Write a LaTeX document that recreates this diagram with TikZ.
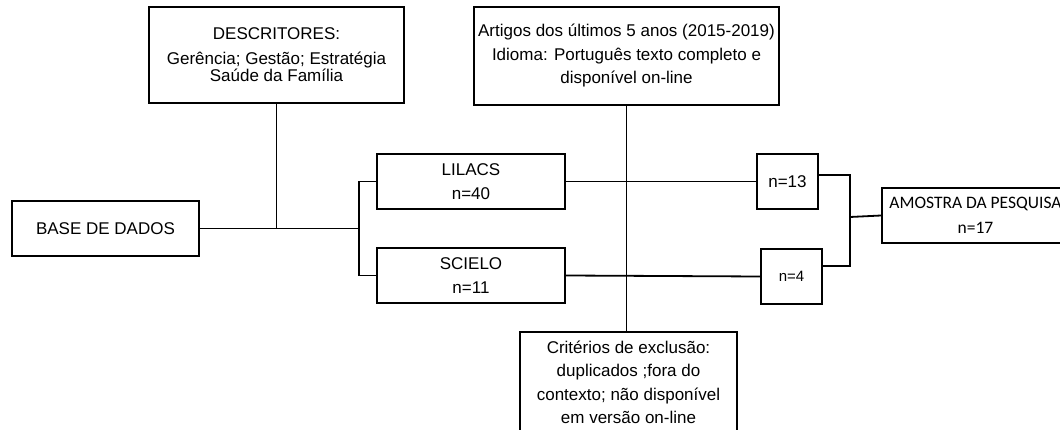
\documentclass[tikz,border=0pt]{standalone}
\usepackage{fontspec}
\setmainfont{Liberation Sans}
\newfontfamily\calib{Carlito}
\begin{document}
\begin{tikzpicture}[x=1pt,y=-1pt,
  box/.style={draw, rectangle, line width=1.7pt, inner sep=0pt, align=center,
              font=\fontsize{17}{23.5}\selectfont},
  wire/.style={draw, line width=1.8pt}]
\useasboundingbox (0,0) rectangle (1060,430);
\fill[white] (0,0) rectangle (1060,430);

\node[box, minimum width=255pt, minimum height=96pt, font=\fontsize{17}{16}\selectfont] (desc) at (276.5,55)
  {DESCRITORES:\\[9pt] Gerência; Gestão; Estratégia\\ Saúde da Família};
\node[box, minimum width=187pt, minimum height=55pt] (base) at (105.5,228.5) {BASE DE DADOS};
\node[box, minimum width=305pt, minimum height=98pt] (art) at (626.5,56)
  {Artigos dos últimos 5 anos (2015-2019)\\ Idioma: Português texto completo e\\ disponível on-line};
\node[box, minimum width=188pt, minimum height=55pt] (lil) at (471,181.5) {LILACS\\ n=40};
\node[box, minimum width=188pt, minimum height=55pt] (sci) at (471,275.5) {SCIELO\\ n=11};
\node[box, minimum width=61pt, minimum height=55pt] (n13) at (787.5,181.5) {n=13};
\node[box, minimum width=61pt, minimum height=55pt, font=\fontsize{15}{16}\selectfont] (n4) at (791.5,276.5) {n=4};
\node[box, minimum width=187pt, minimum height=55pt, font=\calib\fontsize{17.5}{25}\selectfont] (amo) at (975.5,215.5)
  {AMOSTRA DA PESQUISA\\ n=17};
\node[box, minimum width=217pt, minimum height=101pt] (crit) at (628.5,382.5)
  {Critérios de exclusão:\\ duplicados ;fora do\\ contexto; não disponível\\ em versão on-line};

\coordinate (j2) at (359,228.5);
\coordinate (j3) at (850,217);

\draw[wire] (base.east) -- (j2);
\draw[wire] (desc.south) -- (desc.south |- base.east);
\draw[wire] (lil.west) -| (j2) |- (sci.west);
\draw[wire] (lil.east) -- (n13.west);
\draw[wire] (sci.east) -- (n4.west);
\draw[wire] (art.south) -- (art.south |- crit.north);
\draw[wire] ([yshift=6.5pt]n13.east) -| (j3) |- ([yshift=10.5pt]n4.east);
\draw[wire] (j3) -- (amo.west);
\end{tikzpicture}
\end{document}
